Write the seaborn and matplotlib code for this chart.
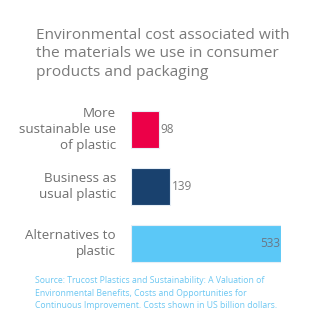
import matplotlib
matplotlib.use("Agg")
import matplotlib.pyplot as plt
import seaborn as sns
import pandas as pd

categories = ["More\nsustainable use\nof plastic", "Business as\nusual plastic", "Alternatives to\nplastic"]
values = [98, 139, 533]
colors = ["#ec0048", "#19416e", "#5bc8f7"]
title = "Environmental cost associated with\nthe materials we use in consumer\nproducts and packaging"
source = ("Source: Trucost Plastics and Sustainability: A Valuation of\n"
          "Environmental Benefits, Costs and Opportunities for\n"
          "Continuous Improvement. Costs shown in US billion dollars.")

sns.set_theme(style="white")
plt.rcParams["font.family"] = ["Open Sans", "DejaVu Sans"]

W, H = 323, 329
fig = plt.figure(figsize=(W / 100, H / 100), dpi=100)
fig.patch.set_facecolor("white")

# axes placed in pixel units
ax_left, ax_right = 131, 281
ax_top, ax_bot = 101, 272
ax = fig.add_axes([ax_left / W, 1 - ax_bot / H, (ax_right - ax_left) / W, (ax_bot - ax_top) / H])

df = pd.DataFrame({"cat": categories, "val": values})
sns.barplot(data=df, y="cat", x="val", hue="cat", palette=colors, orient="h",
            width=0.65, ax=ax, legend=False, saturation=1,
            edgecolor="#e6eef6", linewidth=0.8)
ax.set_xlim(0, max(values))
ax.set_ylim(len(values) - 0.5, -0.5)
ax.axis("off")

text_gray = "#6f6f6f"
for i, (c, v) in enumerate(zip(categories, values)):
    ax.text(-15 / 150 * max(values), i, c, ha="right", va="center", fontsize=9.6,
            color=text_gray, linespacing=1.3)
    if v == max(values):
        ax.text(v - 2, i, str(v), ha="right", va="center", fontsize=8.5, color="#6b7785")
    else:
        ax.text(v + 5, i, str(v), ha="left", va="center", fontsize=8.5, color="#7a7a7a")

fig.text(36 / W, 1 - 28 / H, title, ha="left", va="top", fontsize=11.1,
         color="#7a7a7a", linespacing=1.3)
fig.text(35 / W, 1 - 276 / H, source, ha="left", va="top", fontsize=6.2,
         color="#6cc7f2", linespacing=1.5)

fig.savefig("out.png", dpi=100, facecolor="white")
